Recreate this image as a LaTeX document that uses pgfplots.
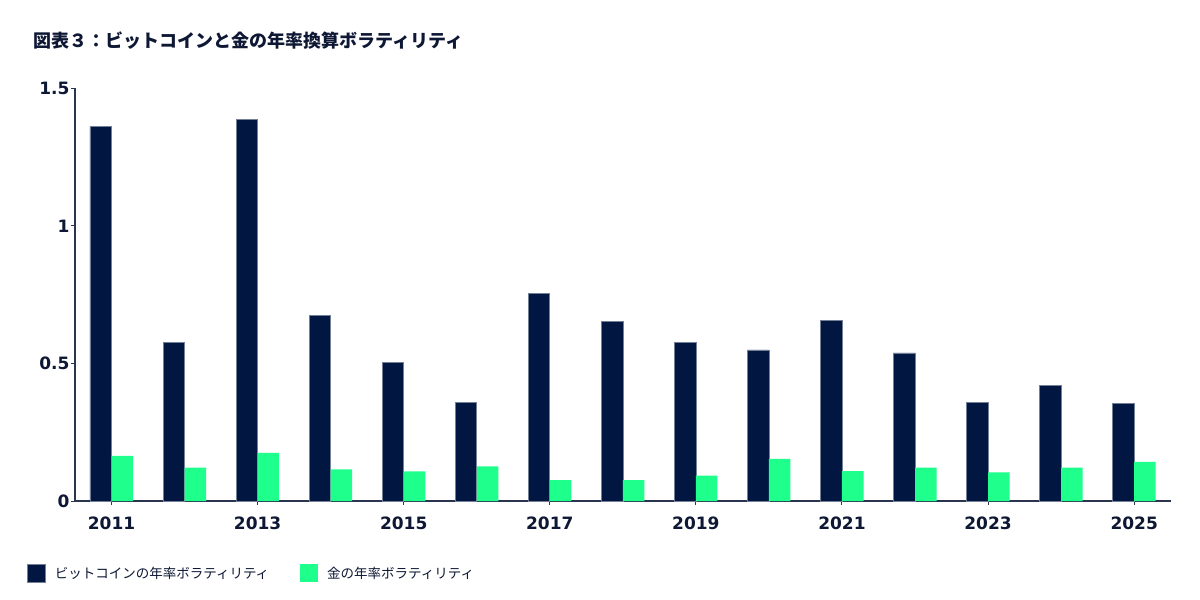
\documentclass[border=0pt]{standalone}
\usepackage{pgfplots}
\pgfplotsset{compat=1.18}
\usepackage{fontspec}
\setmainfont{DejaVu Sans}
\newfontfamily\jp{Noto Sans CJK JP}

\definecolor{btc}{HTML}{011640}
\definecolor{gold}{HTML}{1EFF8C}
\definecolor{ink}{HTML}{0E1834}
\definecolor{axline}{HTML}{2B3550}

\begin{document}
\begin{tikzpicture}
  % page frame (1200 x 600)
  \fill[white] (0pt,0pt) rectangle (1200pt,600pt);
  \node[anchor=west, inner sep=0pt, text=ink] at (33pt,559.5pt)
    {\jp\bfseries\fontsize{18}{20}\selectfont 図表３：ビットコインと金の年率換算ボラティリティ};

  \begin{axis}[
    at={(75pt,99pt)}, anchor=south west,
    scale only axis,
    width=1095.7pt, height=412.7pt,
    xmin=2010.5, xmax=2025.5,
    ymin=0, ymax=1.5,
    axis lines=left,
    axis line style={axline, line width=1.4pt, -},
    xtick={2011,2013,...,2025},
    ytick={0,0.5,1,1.5},
    tick align=outside,
    major tick length=4pt,
    tick style={axline, line width=1pt},
    /pgf/number format/1000 sep={},
    /pgf/number format/assume math mode=true,
    ticklabel style={font=\fontsize{17}{17}\selectfont\bfseries, text=ink},
    xticklabel style={yshift=-8pt},
    yticklabel style={xshift=2pt},
    bar width=0.295,
    area legend,
    legend columns=2,
    legend style={at={(rel axis cs:-0.0438,-0.175)}, anchor=west,
      draw=none, fill=none, inner sep=0pt,
      nodes={inner sep=0pt},
      font=\jp\fontsize{13.5}{16}\selectfont, text=ink,
      /tikz/every odd column/.append style={column sep=9pt},
      /tikz/every even column/.append style={column sep=31pt}},
    legend image code/.code={\fill[#1] (0pt,-9pt) rectangle (18pt,9pt);},
  ]
    \addplot[ybar, bar shift=-0.1475, fill=btc, draw=btc!55!white, line width=0.6pt]
      coordinates {(2011,1.361) (2012,0.576) (2013,1.388) (2014,0.674) (2015,0.505)
                   (2016,0.359) (2017,0.755) (2018,0.652) (2019,0.577) (2020,0.549)
                   (2021,0.657) (2022,0.538) (2023,0.359) (2024,0.419) (2025,0.354)};
    \addlegendentry{ビットコインの年率ボラティリティ}
    \addplot[ybar, bar shift=0.1475, fill=gold, draw=none]
      coordinates {(2011,0.164) (2012,0.121) (2013,0.175) (2014,0.115) (2015,0.108)
                   (2016,0.126) (2017,0.076) (2018,0.076) (2019,0.092) (2020,0.153)
                   (2021,0.109) (2022,0.121) (2023,0.104) (2024,0.121) (2025,0.142)};
    \addlegendentry{金の年率ボラティリティ}
  \end{axis}
\end{tikzpicture}
\end{document}
